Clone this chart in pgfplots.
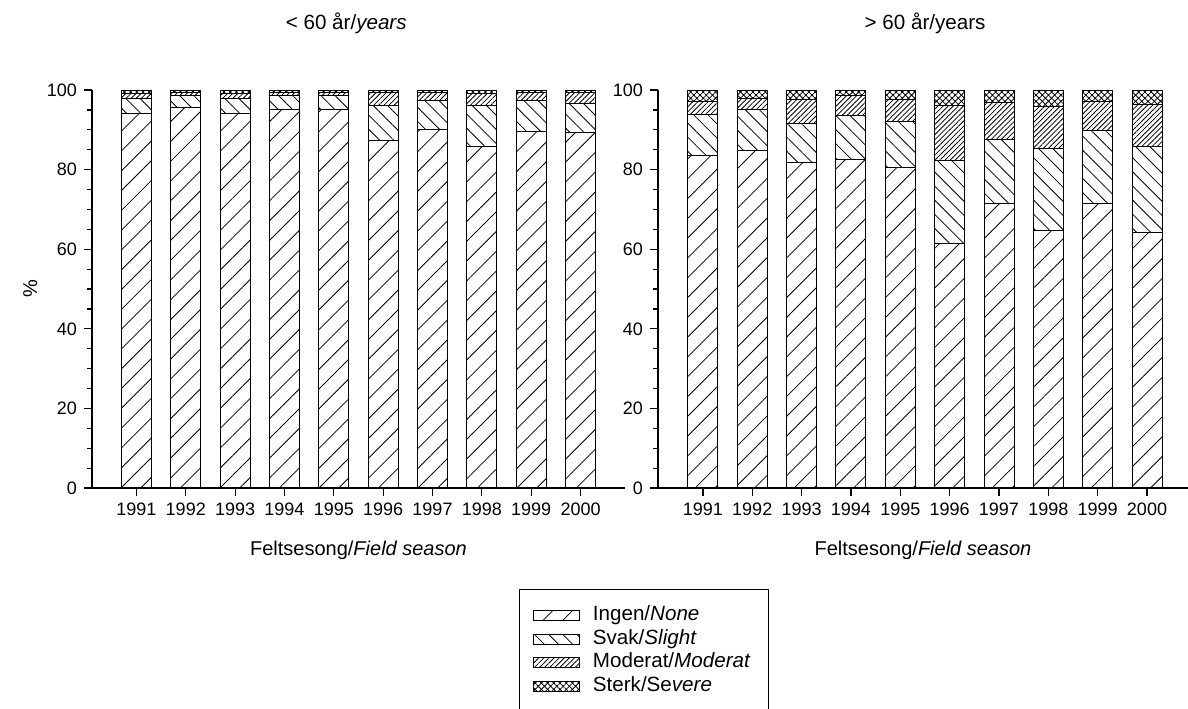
\documentclass[border=0pt]{standalone}
\usepackage{fontspec}
\setmainfont{Liberation Sans}
\usepackage{pgfplots}
\usepackage{pgfplotstable}
\pgfplotsset{compat=1.18}
\usetikzlibrary{patterns.meta}

% share of each grade, per field season
\pgfplotstableread{
year ingen svak moderat sterk
1991 94.1 3.7 1.4 0.8
1992 95.6 3.1 0.7 0.6
1993 94.1 3.8 1.3 0.8
1994 95.0 3.7 0.7 0.6
1995 95.0 3.5 0.8 0.7
1996 87.3 8.7 3.4 0.6
1997 90.2 7.1 2.1 0.6
1998 85.9 10.3 3.0 0.8
1999 89.7 7.6 2.0 0.7
2000 89.3 7.4 2.6 0.7
}\young

\pgfplotstableread{
year ingen svak moderat sterk
1991 83.6 10.3 3.2 2.9
1992 84.8 10.2 2.9 2.1
1993 81.9 9.7 5.9 2.5
1994 82.6 10.9 5.0 1.5
1995 80.6 11.4 5.7 2.3
1996 61.5 20.9 13.6 4.0
1997 71.4 16.2 9.2 3.2
1998 64.8 20.4 10.6 4.2
1999 71.5 18.2 7.5 2.8
2000 64.3 21.6 10.4 3.7
}\old

\pgfplotsset{
  panel/.style={
    scale only axis, height=199pt,
    ybar stacked, bar width=15pt,
    ymin=0, ymax=100, ytick={0,20,...,100}, minor y tick num=3,
    xtick={1991,...,2000},
    axis x line*=bottom, axis y line*=left,
    axis line style={line width=0.6pt},
    tick style={black, line width=0.6pt},
    tick align=outside,
    major tick length=4pt, minor tick length=2.5pt,
    /pgf/number format/assume math mode=true,
    /pgf/number format/1000 sep={},
    tick label style={font=\fontsize{9}{10}\selectfont},
    label style={font=\fontsize{10.3}{12}\selectfont},
    title style={font=\fontsize{10.3}{12}\selectfont},
    every axis title shift=0pt,
    every axis x label/.style={at={(axis description cs:0.5,-0.156)},anchor=center},
    every axis y label/.style={at={(axis description cs:-0.116,0.5)},rotate=90,anchor=center},
  },
  boxlegend/.style={legend image code/.code={%
      \draw[##1,line width=0.5pt] (0pt,-2.5pt) rectangle (23pt,2.5pt);
      \path[draw=none,fill=none] (0pt,0pt) -- (27.5pt,0pt);}},
  ingen/.style={draw=black, line width=0.5pt, pattern={Lines[angle=45,distance=7pt,line width=0.4pt]}, boxlegend},
  svak/.style={draw=black, line width=0.5pt, pattern={Lines[angle=-45,distance=5pt,line width=0.4pt]}, boxlegend},
  moderat/.style={draw=black, line width=0.5pt, pattern={Lines[angle=45,distance=1.8pt,line width=0.4pt]}, boxlegend},
  sterk/.style={draw=black, line width=0.5pt, pattern={Hatch[angle=45,distance=2.2pt,line width=0.4pt]}, boxlegend},
}

\begin{document}
\begin{tikzpicture}
\begin{axis}[
    panel,
    width=266.5pt,
    xmin=1990.1, xmax=2000.9,
    title={< 60 år/\textit{years}},
    title style={at={(axis description cs:0.477,1.168)},anchor=center},
    xlabel={Feltsesong/\textit{Field season}},
    ylabel={\%},
    legend style={at={(axis description cs:0.801,-0.254)}, anchor=north west,
        draw=black, line width=0.5pt, inner sep=7pt, row sep=0pt,
        font=\fontsize{10.3}{12}\selectfont,
        nodes={inner ysep=0.9pt, text height=7.5pt, text depth=2.5pt}},
    legend cell align=left,
]
\addplot[ingen] table[x=year,y=ingen] {\young};
\addlegendentry{Ingen/\textit{None}}
\addplot[svak] table[x=year,y=svak] {\young};
\addlegendentry{Svak/\textit{Slight}}
\addplot[moderat] table[x=year,y=moderat] {\young};
\addlegendentry{Moderat/\textit{Moderat}}
\addplot[sterk] table[x=year,y=sterk] {\young};
\addlegendentry{Sterk/Se\textit{vere}}
\end{axis}

\begin{axis}[
    panel,
    at={(283pt,0pt)}, anchor=south west,
    width=265pt,
    xmin=1990.09, xmax=2000.83,
    title={> 60 år/years},
    title style={at={(axis description cs:0.504,1.168)},anchor=center},
    xlabel={Feltsesong/\textit{Field season}},
]
\addplot[ingen] table[x=year,y=ingen] {\old};
\addplot[svak] table[x=year,y=svak] {\old};
\addplot[moderat] table[x=year,y=moderat] {\old};
\addplot[sterk] table[x=year,y=sterk] {\old};
\end{axis}

\pgfresetboundingbox
\useasboundingbox (-46pt,-110pt) rectangle (548pt,244pt);
\end{tikzpicture}
\end{document}
